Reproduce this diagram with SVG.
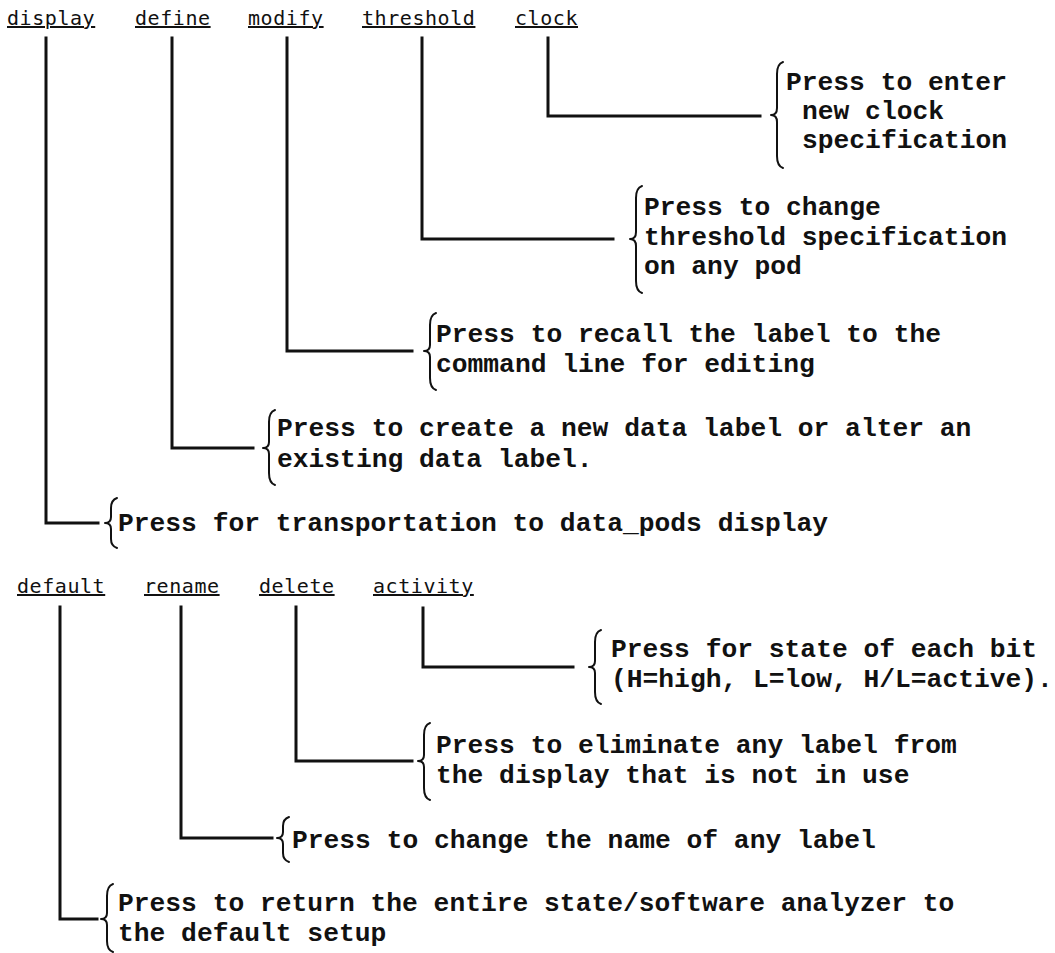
<svg xmlns="http://www.w3.org/2000/svg" width="1055" height="953" viewBox="0 0 1055 953">
<style>
.key{font-family:"DejaVu Sans Mono","Liberation Mono",monospace;font-size:20px;letter-spacing:0.56px;fill:#111;text-decoration:underline}
.desc{font-family:"Liberation Mono","Courier New",monospace;font-size:26.3px;font-weight:bold;fill:#111}
.conn{fill:none;stroke:#111;stroke-width:3;stroke-linejoin:miter;stroke-linecap:square}
.brace{fill:none;stroke:#111;stroke-width:2;stroke-linejoin:round;stroke-linecap:round}
</style>
<rect width="1055" height="953" fill="#fff"/>

<!-- top keys -->
<g id="key-display"><text class="key" x="7" y="25">display</text></g>
<g id="key-define"><text class="key" x="135" y="25">define</text></g>
<g id="key-modify"><text class="key" x="248" y="25">modify</text></g>
<g id="key-threshold"><text class="key" x="362" y="25">threshold</text></g>
<g id="key-clock"><text class="key" x="515" y="25">clock</text></g>

<!-- bottom keys -->
<g id="key-default"><text class="key" x="17" y="593">default</text></g>
<g id="key-rename"><text class="key" x="144" y="593">rename</text></g>
<g id="key-delete"><text class="key" x="259" y="593">delete</text></g>
<g id="key-activity"><text class="key" x="373" y="593">activity</text></g>

<g id="connectors">
<path class="conn" d="M548,38 V116 H760"/>
<path class="conn" d="M422,38 V239 H613"/>
<path class="conn" d="M287,38 V351 H412"/>
<path class="conn" d="M172,38 V448 H253"/>
<path class="conn" d="M46,38 V523 H98"/>
<path class="conn" d="M423,608 V667 H573"/>
<path class="conn" d="M296,607 V761 H412"/>
<path class="conn" d="M181,607 V838 H272"/>
<path class="conn" d="M60,607 V919 H97"/>
</g>

<g id="desc-clock">
<path class="brace" d="M783,62 Q777,64 777,74 L777,108 Q777,115 771,115 Q777,115 777,122 L777,156 Q777,166 783,168"/>
<text class="desc" x="786" y="90">Press to enter</text>
<text class="desc" x="802" y="119">new clock</text>
<text class="desc" x="802" y="148">specification</text>
</g>

<g id="desc-threshold">
<path class="brace" d="M642,186 Q636,188 636,198 L636,232 Q636,239 630,239 Q636,239 636,246 L636,281 Q636,291 642,293"/>
<text class="desc" x="644" y="215">Press to change</text>
<text class="desc" x="644" y="245">threshold specification</text>
<text class="desc" x="644" y="274">on any pod</text>
</g>

<g id="desc-modify">
<path class="brace" d="M436,313 Q430,315 430,325 L430,345 Q430,351 424,351 Q430,351 430,357 L430,378 Q430,388 436,390"/>
<text class="desc" x="436" y="342">Press to recall the label to the</text>
<text class="desc" x="436" y="372">command line for editing</text>
</g>

<g id="desc-define">
<path class="brace" d="M275,410 Q269,412 269,422 L269,442 Q269,448 263,448 Q269,448 269,454 L269,473 Q269,483 275,485"/>
<text class="desc" x="277" y="436">Press to create a new data label or alter an</text>
<text class="desc" x="277" y="467">existing data label.</text>
</g>

<g id="desc-display">
<path class="brace" d="M117,498 Q111,500 111,508 L111,517 Q111,523 105,523 Q111,523 111,529 L111,539 Q111,546 117,548"/>
<text class="desc" x="118" y="531">Press for transportation to data_pods display</text>
</g>

<g id="desc-activity">
<path class="brace" d="M601,630 Q595,632 595,642 L595,661 Q595,667 589,667 Q595,667 595,673 L595,692 Q595,702 601,704"/>
<text class="desc" x="611" y="657">Press for state of each bit</text>
<text class="desc" x="611" y="687">(H=high, L=low, H/L=active).</text>
</g>

<g id="desc-delete">
<path class="brace" d="M430,723 Q424,725 424,735 L424,755 Q424,761 418,761 Q424,761 424,767 L424,788 Q424,798 430,800"/>
<text class="desc" x="436" y="753">Press to eliminate any label from</text>
<text class="desc" x="436" y="783">the display that is not in use</text>
</g>

<g id="desc-rename">
<path class="brace" d="M289,817 Q283,819 283,826 L283,832 Q283,838 277,838 Q283,838 283,844 L283,853 Q283,860 289,862"/>
<text class="desc" x="292" y="848">Press to change the name of any label</text>
</g>

<g id="desc-default">
<path class="brace" d="M113,884 Q107,886 107,896 L107,913 Q107,919 101,919 Q107,919 107,925 L107,941 Q107,950 113,952"/>
<text class="desc" x="118" y="911">Press to return the entire state/software analyzer to</text>
<text class="desc" x="118" y="941">the default setup</text>
</g>
</svg>
